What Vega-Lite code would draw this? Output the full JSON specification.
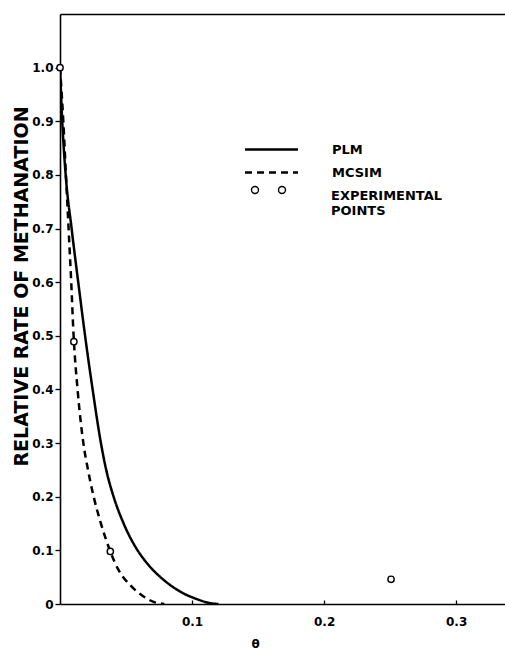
{
  "$schema": "https://vega.github.io/schema/vega-lite/v6.json",
  "width": 445,
  "height": 590,
  "autosize": {"type": "none"},
  "padding": {"left": 60, "top": 14, "right": 0, "bottom": 46},
  "background": "white",
  "config": {
    "view": {"stroke": null},
    "font": "DejaVu Sans",
    "axis": {
      "labelFont": "DejaVu Sans",
      "labelFontWeight": "bold",
      "labelFontSize": 12,
      "labelColor": "black",
      "domainColor": "black",
      "domainWidth": 1.6,
      "tickColor": "black",
      "tickWidth": 1.3,
      "grid": false,
      "titleFont": "DejaVu Sans",
      "titleFontWeight": "bold",
      "titleColor": "black"
    },
    "legend": {
      "labelFont": "DejaVu Sans",
      "labelFontWeight": "bold",
      "labelFontSize": 13,
      "labelColor": "black"
    }
  },
  "datasets": {
    "curves": [
      {"model": "PLM", "theta": 0.0, "rate": 1.0},
      {"model": "PLM", "theta": 0.0017, "rate": 0.9},
      {"model": "PLM", "theta": 0.0043, "rate": 0.8},
      {"model": "PLM", "theta": 0.0088, "rate": 0.7},
      {"model": "PLM", "theta": 0.0138, "rate": 0.6},
      {"model": "PLM", "theta": 0.019, "rate": 0.5},
      {"model": "PLM", "theta": 0.0247, "rate": 0.4},
      {"model": "PLM", "theta": 0.031, "rate": 0.3},
      {"model": "PLM", "theta": 0.035, "rate": 0.25},
      {"model": "PLM", "theta": 0.0406, "rate": 0.2},
      {"model": "PLM", "theta": 0.0482, "rate": 0.15},
      {"model": "PLM", "theta": 0.057, "rate": 0.107},
      {"model": "PLM", "theta": 0.0659, "rate": 0.076},
      {"model": "PLM", "theta": 0.0785, "rate": 0.045},
      {"model": "PLM", "theta": 0.0911, "rate": 0.023},
      {"model": "PLM", "theta": 0.1038, "rate": 0.009},
      {"model": "PLM", "theta": 0.1139, "rate": 0.0015},
      {"model": "PLM", "theta": 0.12, "rate": 0.0},
      {"model": "MCSIM", "theta": 0.0, "rate": 1.0},
      {"model": "MCSIM", "theta": 0.0025, "rate": 0.9},
      {"model": "MCSIM", "theta": 0.0045, "rate": 0.8},
      {"model": "MCSIM", "theta": 0.0065, "rate": 0.7},
      {"model": "MCSIM", "theta": 0.0085, "rate": 0.6},
      {"model": "MCSIM", "theta": 0.0103, "rate": 0.5},
      {"model": "MCSIM", "theta": 0.0133, "rate": 0.4},
      {"model": "MCSIM", "theta": 0.0177, "rate": 0.3},
      {"model": "MCSIM", "theta": 0.0212, "rate": 0.25},
      {"model": "MCSIM", "theta": 0.0255, "rate": 0.2},
      {"model": "MCSIM", "theta": 0.031, "rate": 0.15},
      {"model": "MCSIM", "theta": 0.0378, "rate": 0.1},
      {"model": "MCSIM", "theta": 0.0444, "rate": 0.063},
      {"model": "MCSIM", "theta": 0.0533, "rate": 0.035},
      {"model": "MCSIM", "theta": 0.0633, "rate": 0.014},
      {"model": "MCSIM", "theta": 0.0709, "rate": 0.004},
      {"model": "MCSIM", "theta": 0.079, "rate": 0.0}
    ],
    "points": [
      {"kind": "EXPERIMENTAL POINTS", "theta": 0.0, "rate": 1.0},
      {"kind": "EXPERIMENTAL POINTS", "theta": 0.0105, "rate": 0.489},
      {"kind": "EXPERIMENTAL POINTS", "theta": 0.0381, "rate": 0.098},
      {"kind": "EXPERIMENTAL POINTS", "theta": 0.2507, "rate": 0.046}
    ]
  },
  "resolve": {"axis": {"x": "independent"}},
  "layer": [
    {
      "data": {"name": "curves"},
      "mark": {"type": "line", "color": "black", "strokeWidth": 2.5, "interpolate": "monotone", "clip": true},
      "encoding": {
        "x": {
          "field": "theta",
          "type": "quantitative",
          "scale": {"domain": [0, 0.337], "nice": false, "zero": false},
          "axis": {
            "orient": "bottom",
            "values": [0.1, 0.2, 0.3],
            "format": ".1f",
            "tickSize": -4,
            "labelPadding": 16,
            "title": "θ",
            "titleFontSize": 12,
            "titleX": 195,
            "titleY": 43,
            "titleBaseline": "alphabetic",
            "titleAnchor": null
          }
        },
        "y": {
          "field": "rate",
          "type": "quantitative",
          "scale": {"domain": [0, 1.1], "nice": false},
          "axis": {
            "values": [0, 0.1, 0.2, 0.3, 0.4, 0.5, 0.6, 0.7, 0.8, 0.9, 1.0],
            "labelExpr": "datum.value == 0 ? '0' : format(datum.value, '.1f')",
            "tickSize": 5,
            "labelPadding": 2,
            "title": "RELATIVE RATE OF METHANATION",
            "titleFontSize": 19,
            "titleX": -29,
            "titleY": 272
          }
        },
        "strokeDash": {
          "field": "model",
          "type": "nominal",
          "scale": {"domain": ["PLM", "MCSIM"], "range": [[1, 0], [7, 5]]},
          "legend": {
            "orient": "none",
            "legendX": 200,
            "legendY": 124,
            "title": null,
            "symbolType": "M-2.65,0H2.65",
            "symbolSize": 400,
            "symbolStrokeWidth": 2.6,
            "symbolStrokeColor": "black",
            "labelOffset": 49,
            "rowPadding": 4
          }
        }
      }
    },
    {
      "data": {"name": "points"},
      "mark": {"type": "point", "shape": "circle", "fill": "white", "stroke": "black", "strokeWidth": 1.4, "size": 40, "opacity": 1, "clip": false},
      "encoding": {
        "x": {
          "field": "theta",
          "type": "quantitative",
          "axis": {"orient": "top", "labels": false, "ticks": false, "title": null, "domain": true}
        },
        "y": {"field": "rate", "type": "quantitative"},
        "color": {
          "field": "kind",
          "type": "nominal",
          "scale": {"domain": ["EXPERIMENTAL POINTS"], "range": ["black"]},
          "legend": {
            "orient": "none",
            "legendX": 197.5,
            "legendY": 165,
            "title": null,
            "symbolType": "M-1.7,0A0.35,0.35 0 1 1 -1,0A0.35,0.35 0 1 1 -1.7,0ZM1,0A0.35,0.35 0 1 1 1.7,0A0.35,0.35 0 1 1 1,0Z",
            "symbolSize": 400,
            "symbolStrokeWidth": 1.4,
            "symbolStrokeColor": "black",
            "symbolFillColor": "white",
            "labelOffset": 51.5,
            "labelBaseline": "top",
            "labelExpr": "datum.label == 'EXPERIMENTAL POINTS' ? ['EXPERIMENTAL', 'POINTS'] : datum.label",
            "encode": {
              "labels": {"update": {"dy": {"value": -5}, "lineHeight": {"value": 18}}}
            }
          }
        }
      }
    }
  ]
}
